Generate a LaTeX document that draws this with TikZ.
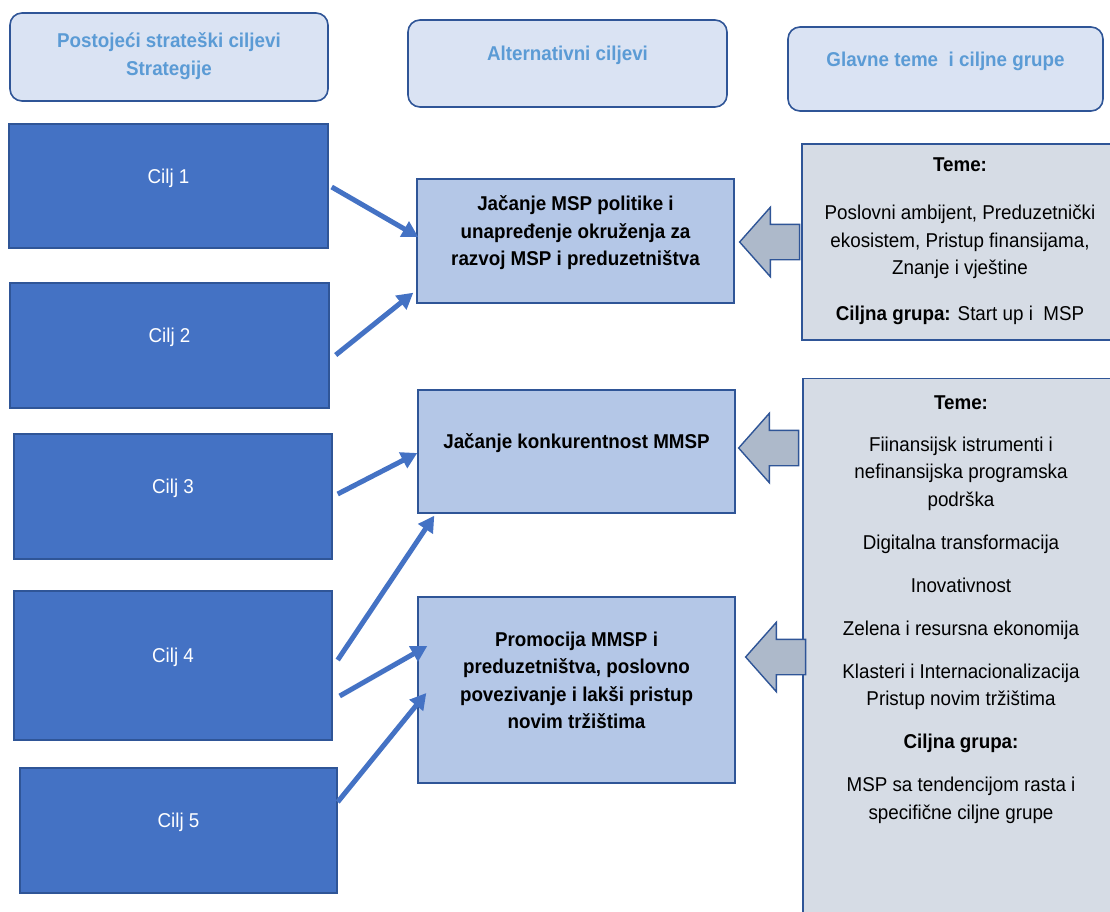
\documentclass[tikz,border=0pt]{standalone}
\usepackage{fontspec}
\setmainfont[FakeStretch=0.94]{Liberation Sans}
\usepackage{tikz}
\usetikzlibrary{positioning, shapes, arrows.meta, calc}

\definecolor{bdr}{HTML}{2F5597}
\definecolor{hdrfill}{HTML}{DAE3F3}
\definecolor{hdrtext}{HTML}{5B9BD5}
\definecolor{ciljfill}{HTML}{4472C4}
\definecolor{altfill}{HTML}{B4C7E7}
\definecolor{temfill}{HTML}{D6DCE5}
\definecolor{arrfill}{HTML}{ADB9CA}
\newcommand{\bodysize}{\fontsize{20}{27.5}\selectfont}

\begin{document}
\begin{tikzpicture}[x=1pt, y=1pt,
    hdr/.style={draw=bdr, fill=hdrfill, line width=1.6pt,
        rounded corners=12pt, align=center,
        font=\bodysize\bfseries, text=hdrtext, text depth=20pt},
    cilj/.style={draw=bdr, fill=ciljfill, line width=1.4pt,
        font=\bodysize, text=white, text depth=20pt},
    alt/.style={draw=bdr, fill=altfill, line width=1.4pt,
        align=center, font=\bodysize\bfseries, text depth=20pt},
    tem/.style={draw=bdr, fill=temfill, line width=1.4pt,
        align=center, font=\bodysize, text depth=20pt},
    blk/.style={single arrow, shape border rotate=180,
        draw=bdr, fill=arrfill, line width=1.4pt,
        inner xsep=0pt, inner ysep=17pt,
        minimum height=60pt, minimum width=68pt,
        single arrow head extend=17pt, single arrow tip angle=97},
    link/.style={draw=ciljfill, line width=5pt,
        -{Triangle[length=16pt, width=17pt]}}]

\useasboundingbox (0,0) rectangle (1110,-912);

% column headers
\node[hdr,
        minimum width=318,
        minimum height=88,
        text depth=6pt] (H1) at (169,-57) {Postojeći strateški ciljevi\\Strategije};
\node[hdr,
        minimum width=319,
        minimum height=87] (H2) at (567.5,-63.5) {Alternativni ciljevi};
\node[hdr,
        minimum width=315,
        minimum height=84] (H3) at (945.5,-69) {Glavne teme\ \ i ciljne grupe};

% existing goals
\node[cilj,
        minimum width=319,
        minimum height=124] (C1) at (168.5,-186) {Cilj 1};
\node[cilj,
        minimum width=319,
        minimum height=125] (C2) at ($(C1) + (1,-159.5)$) {Cilj 2};
\node[cilj,
        minimum width=318,
        minimum height=125] (C3) at ($(C2) + (3.5,-151)$) {Cilj 3};
\node[cilj,
        minimum width=318,
        minimum height=149] (C4) at ($(C3) + (0,-169)$) {Cilj 4};
\node[cilj,
        minimum width=317,
        minimum height=125] (C5) at ($(C4) + (5.5,-165)$) {Cilj 5};

% alternative goals
\node[alt,
        minimum width=317,
        minimum height=124] (M1) at (575.5,-241) {Jačanje MSP politike i\\unapređenje okruženja za\\razvoj MSP i preduzetništva};
\node[alt,
        minimum width=317,
        minimum height=123] (M2) at ($(M1) + (1,-210.5)$) {Jačanje konkurentnost MMSP};
\node[alt,
        minimum width=317,
        minimum height=186] (M3) at ($(M2) + (0,-238.5)$) {Promocija MMSP i\\preduzetništva, poslovno\\povezivanje i lakši pristup\\novim tržištima};

% themes and target groups
\node[tem,
        minimum width=316,
        minimum height=196,
        text depth=6pt] (R1) at (960,-242) {\textbf{Teme:}\\[21pt]
        Poslovni ambijent, Preduzetnički\\
        ekosistem, Pristup finansijama,\\
        Znanje i vještine\\[18.5pt]
        \textbf{Ciljna grupa:} Start up i\ \ MSP};
\node[tem,
        minimum width=316,
        minimum height=560,
        text depth=103pt,
        anchor=north] (R2) at (961,-378) {\textbf{Teme:}\\[14.5pt]
        Fiinansijsk istrumenti i\\
        nefinansijska programska\\
        podrška\\[15.5pt]
        Digitalna transformacija\\[15.5pt]
        Inovativnost\\[15.5pt]
        Zelena i resursna ekonomija\\[15.5pt]
        Klasteri i Internacionalizacija\\
        Pristup novim tržištima\\[15.5pt]
        \textbf{Ciljna grupa:}\\[15.5pt]
        MSP sa tendencijom rasta i\\
        specifične ciljne grupe};

% block arrows
\node[blk, anchor=tip] (B1) at ($(M1.east) + (4,-1)$) {};
\node[blk, anchor=tip] (B2) at ($(M2.east) + (2,3.5)$) {};
\node[blk, anchor=tip] (B3) at ($(M3.east) + (9,33)$) {};

% goal links
\draw[link] ($(C1.east) + (3,-1)$) -- ($(M1.west) + (2,4)$);
\draw[link] ($(C2.east) + (6,-9.5)$) -- ($(M1.south west) + (-3,11)$);
\draw[link] ($(C3.east) + (5,2.5)$) -- ($(M2.west) + (0,-1.5)$);
\draw[link] ($(C4.east) + (5,5.5)$) -- ($(M2.south west) + (17,-2)$);
\draw[link] ($(C4.east) + (7,-30.5)$) -- ($(M3.west) + (10,44)$);
\draw[link] ($(C5.east) + (0,28.5)$) -- ($(M3.west) + (9,-3)$);

\end{tikzpicture}
\end{document}
